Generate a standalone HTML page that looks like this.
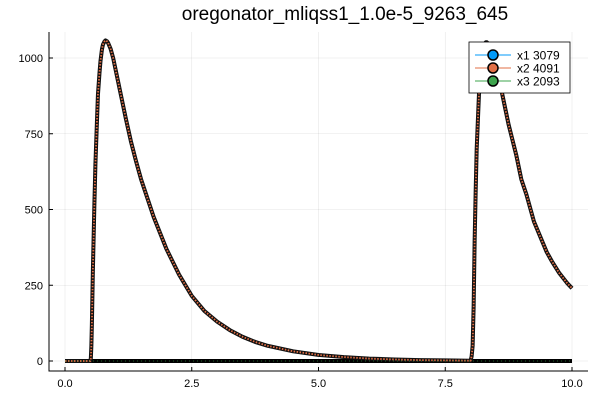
<!DOCTYPE html>
<html><head><meta charset="utf-8"><style>
body{margin:0;background:#fff}
svg text{font-family:"Liberation Sans","DejaVu Sans",sans-serif}
</style></head><body>
<svg id="chart" width="600" height="400" viewBox="0 0 600 400">
<rect width="600" height="400" fill="#fff"/>
<text x="345" y="20" font-size="19" text-anchor="middle" fill="#000">oregonator_mliqss1_1.0e-5_9263_645</text>
<g id="grid"></g><g id="axes"></g><g id="series"></g>
<g>
<rect x="469" y="42" width="101" height="51" fill="#fff" stroke="#000" stroke-width="0.8"/>
<g>
<line x1="475" y1="55" x2="511" y2="55" stroke="#009af9" stroke-width="1"/><circle cx="493" cy="55" r="5" fill="#009af9" stroke="#000" stroke-width="1.5"/>
<text x="517" y="59.5" font-size="12">x1 3079</text></g>
<g>
<line x1="475" y1="68" x2="511" y2="68" stroke="#e26f46" stroke-width="1"/><circle cx="493" cy="68" r="5" fill="#e26f46" stroke="#000" stroke-width="1.5"/>
<text x="517" y="72.5" font-size="12">x2 4091</text></g>
<g>
<line x1="475" y1="81" x2="511" y2="81" stroke="#3da44d" stroke-width="1"/><circle cx="493" cy="81" r="5" fill="#3da44d" stroke="#000" stroke-width="1.5"/>
<text x="517" y="85.5" font-size="12">x3 2093</text></g>
</g>
</svg>
<script>
const xTicks=[0,2.5,5,7.5,10];
const xTickLabels=["0.0","2.5","5.0","7.5","10.0"];
const yTicks=[0,250,500,750,1000];
const yTickLabels=["0","250","500","750","1000"];
const tX2=[0,0.5,0.51,0.52,0.53,0.55,0.58,0.6,0.63,0.65,0.68,0.7,0.73,0.75,0.78,0.8,0.83,0.85,0.9,0.95,1.0,1.1,1.2,1.3,1.4,1.5,1.75,2.0,2.25,2.5,2.75,3.0,3.25,3.5,3.75,4.0,4.5,5.0,5.5,6.0,6.5,7.0,7.5,8.0,8.02,8.04,8.06,8.08,8.1,8.12,8.15,8.17,8.2,8.22,8.25,8.27,8.3,8.32,8.36,8.4,8.45,8.5,8.6,8.75,8.9,9.0,9.1,9.25,9.4,9.5,9.6,9.75,9.9,10.0];
const vX2=[0,0,10,50,120,300,520,650,790,880,950,990,1030,1045,1055,1058,1055,1050,1030,1000,960,880,800,725,660,600,475,370,285,215,165,130,102,80,63,50,32,20,13,8,5,3,2,1,15,50,180,400,560,700,820,900,965,1000,1035,1045,1052,1052,1045,1030,1003,970,900,780,680,600,550,460,400,360,330,290,258,240];
const tX3=[0,10];
const vX3=[0,0];
const sx=t=>65+t*50.7;
const sy=v=>361-v*0.303;
const NS="http://www.w3.org/2000/svg";
function mk(tag,attrs,parent){const e=document.createElementNS(NS,tag);for(const k in attrs)e.setAttribute(k,attrs[k]);document.getElementById(parent).appendChild(e);return e;}
xTicks.forEach((t,i)=>{
 const g=mk('line',{x1:sx(t),x2:sx(t),y1:32,y2:371,stroke:'#000','stroke-opacity':0.1,'stroke-width':0.6},'grid');
 
 
 const tk=mk('line',{x1:sx(t),x2:sx(t),y1:371,y2:367,stroke:'#000'},'axes');
 
 
 const l=mk('text',{x:sx(t),y:387,'font-size':11,'text-anchor':'middle'},'axes');l.textContent=xTickLabels[i];
 
 
});
yTicks.forEach((v,i)=>{
 const g=mk('line',{x1:49,x2:588,y1:sy(v),y2:sy(v),stroke:'#000','stroke-opacity':0.1,'stroke-width':0.6},'grid');
 
 
 const tk=mk('line',{x1:49,x2:53,y1:sy(v),y2:sy(v),stroke:'#000'},'axes');
 
 
 const l=mk('text',{x:43,y:sy(v)+4,'font-size':11,'text-anchor':'end'},'axes');l.textContent=yTickLabels[i];
 
 
});
const ax=mk('path',{d:'M49,32 V371 H588',fill:'none',stroke:'#000','stroke-width':1},'axes');


const p3=tX3.map((t,i)=>sx(t)+','+sy(vX3[i])).join(' ');
const b3=mk('polyline',{points:p3,fill:'none',stroke:'#000','stroke-width':4},'series');


const p2=tX2.map((t,i)=>sx(t)+','+sy(vX2[i])).join(' ');
const b2=mk('polyline',{points:p2,fill:'none',stroke:'#111','stroke-width':4,'stroke-linejoin':'round'},'series');


const o2=mk('polyline',{points:p2,fill:'none',stroke:'#e26f46','stroke-width':1.8,'stroke-dasharray':'1.5 1.5','stroke-linejoin':'round'},'series');


const g3=mk('polyline',{points:p3,fill:'none',stroke:'#3da44d','stroke-width':1,'stroke-dasharray':'1 3','stroke-opacity':0.6},'series');


</script>
</body></html>
